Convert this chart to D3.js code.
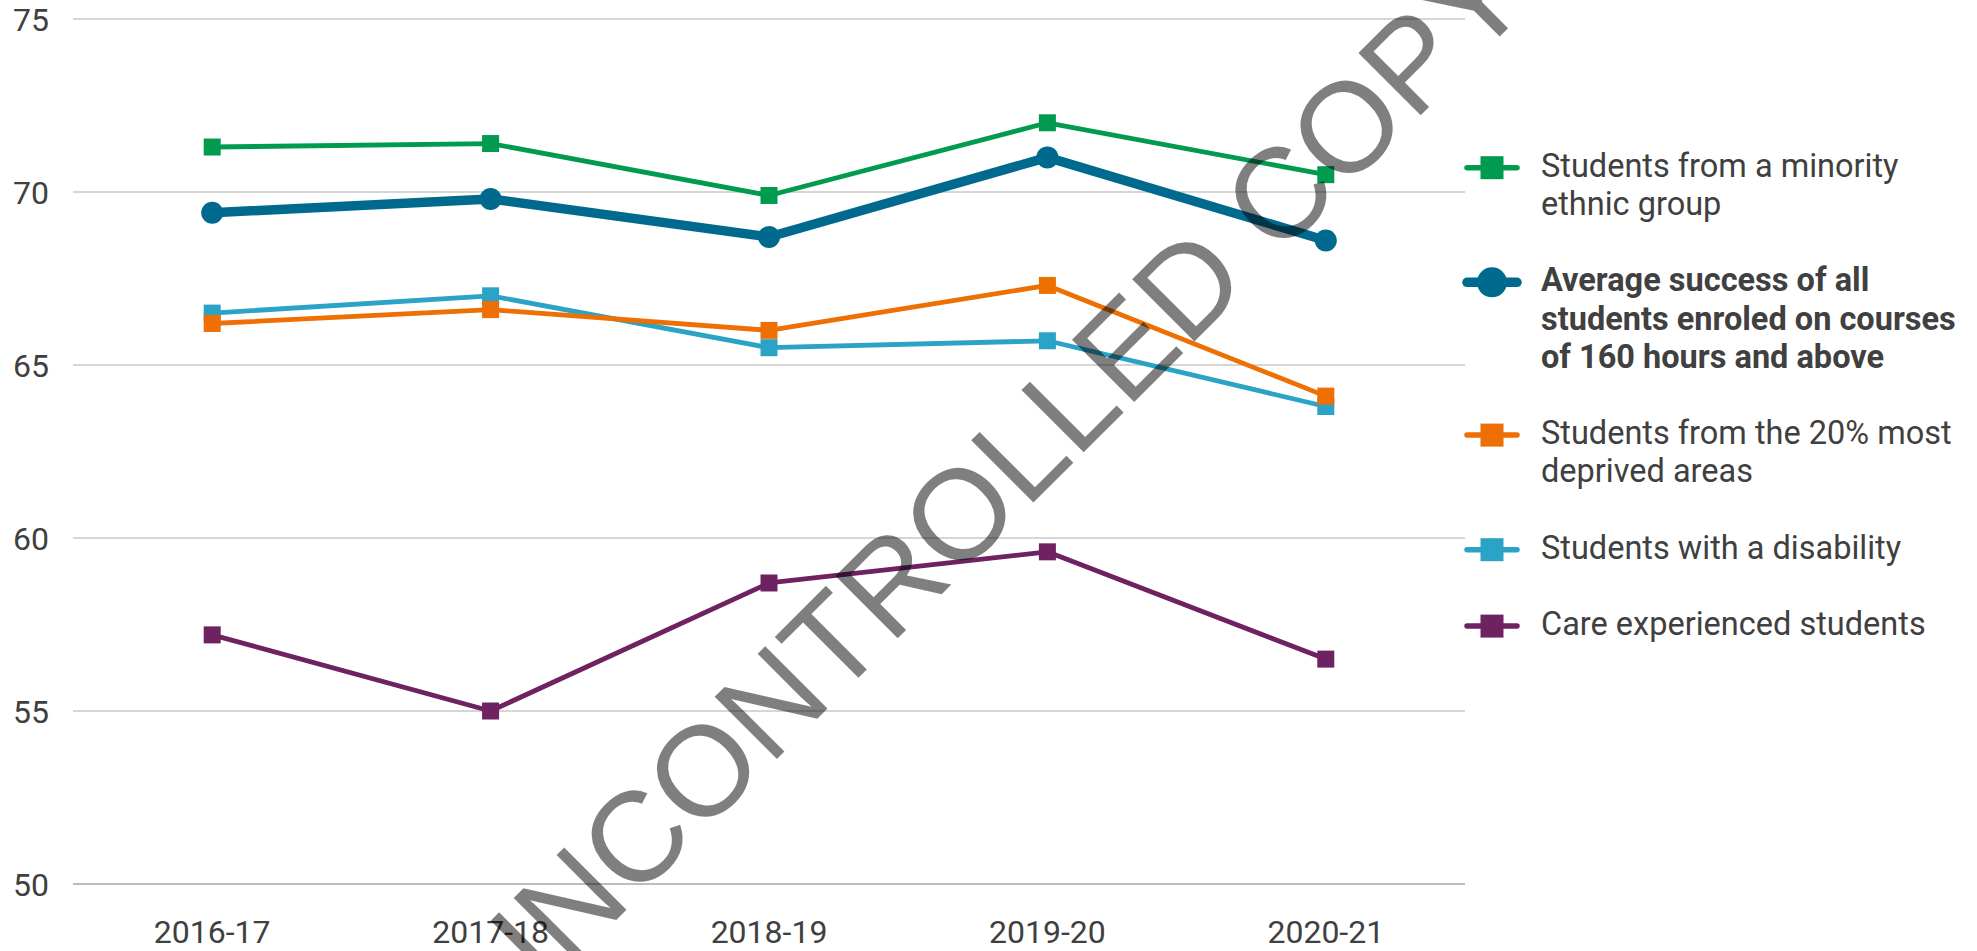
<!DOCTYPE html>
<html>
<head>
<meta charset="utf-8">
<script src="https://cdn.jsdelivr.net/npm/d3@7"></script>
<style>
  body { margin: 0; background: #fff; }
  text { font-family: Roboto, "Noto Sans", sans-serif; fill: #404040; }
</style>
</head>
<body>
<div class="canvas"></div>
<script>
const years = ['2016-17', '2017-18', '2018-19', '2019-20', '2020-21']
const yTicks = [50, 55, 60, 65, 70, 75]

const minorityEthnic = [71.3, 71.4, 69.9, 72.0, 70.5]
const averageAll = [69.4, 69.8, 68.7, 71.0, 68.6]
const deprived20 = [66.2, 66.6, 66.0, 67.3, 64.1]
const disability = [66.5, 67.0, 65.5, 65.7, 63.8]
const careExperienced = [57.2, 55.0, 58.7, 59.6, 56.5]

const legendLabels = [
    ['Students from a minority', 'ethnic group'],
    ['Average success of all', 'students enroled on courses', 'of 160 hours and above'],
    ['Students from the 20% most', 'deprived areas'],
    ['Students with a disability'],
    ['Care experienced students']
]

const series = [
    { name: 'minority', values: minorityEthnic, colour: '#009b4e', bold: false, label: legendLabels[0] },
    { name: 'average', values: averageAll, colour: '#006a8e', bold: true, label: legendLabels[1] },
    { name: 'deprived', values: deprived20, colour: '#ee6f03', bold: false, label: legendLabels[2] },
    { name: 'disability', values: disability, colour: '#2ba3c6', bold: false, label: legendLabels[3] },
    { name: 'care', values: careExperienced, colour: '#6e2261', bold: false, label: legendLabels[4] }
]

const dimensions = { width: 1977, height: 951 }
const plot = { left: 73, right: 1465, top: 19, bottom: 884 }

const svg = d3.select('.canvas')
    .append('svg')
    .attr('width', dimensions.width)
    .attr('height', dimensions.height)

const x = d3.scalePoint()
    .domain(years)
    .range([plot.left, plot.right])
    .padding(0.5)

const y = d3.scaleLinear()
    .domain([50, 75])
    .range([plot.bottom, plot.top])

// gridlines + y labels
const grid = svg.append('g')
grid.selectAll('line')
    .data(yTicks)
    .enter()
    .append('line')
    .attr('x1', plot.left)
    .attr('x2', plot.right)
    .attr('y1', d => y(d))
    .attr('y2', d => y(d))
    .attr('stroke', d => d === 50 ? '#bdbdbd' : '#c8c8c8')
    .attr('stroke-width', d => d === 50 ? 2 : 1.5)

grid.selectAll('text')
    .data(yTicks)
    .enter()
    .append('text')
    .attr('x', 49)
    .attr('y', d => y(d) + 12)
    .attr('text-anchor', 'end')
    .attr('font-size', 32)
    .text(d => d)

// x labels
svg.append('g')
    .selectAll('text')
    .data(years)
    .enter()
    .append('text')
    .attr('x', d => x(d))
    .attr('y', 943)
    .attr('text-anchor', 'middle')
    .attr('font-size', 32)
    .text(d => d)

const line = d3.line()
    .x((d, i) => x(years[i]))
    .y(d => y(d))

// draw order: purple, light blue, orange, green, blue
const drawOrder = [4, 3, 2, 0, 1]
const lines = svg.append('g')

drawOrder.forEach(k => {
    const s = series[k]
    const g = lines.append('g')
    g.append('path')
        .datum(s.values)
        .attr('d', line)
        .attr('fill', 'none')
        .attr('stroke', s.colour)
        .attr('stroke-width', s.bold ? 9.5 : 4.8)
        .attr('stroke-linejoin', 'round')

    if (s.bold) {
        g.selectAll('circle')
            .data(s.values)
            .enter()
            .append('circle')
            .attr('cx', (d, i) => x(years[i]))
            .attr('cy', d => y(d))
            .attr('r', 11)
            .attr('fill', s.colour)
    } else {
        g.selectAll('rect')
            .data(s.values)
            .enter()
            .append('rect')
            .attr('x', (d, i) => x(years[i]) - 8.5)
            .attr('y', d => y(d) - 8.5)
            .attr('width', 17)
            .attr('height', 17)
            .attr('fill', s.colour)
    }
})

// legend
const legend = svg.append('g')
const lineHeight = 38.2
let baseline = 176.7

series.forEach(s => {
    const item = legend.append('g')
    const my = baseline - 9
    item.append('line')
        .attr('x1', 1467)
        .attr('x2', 1517)
        .attr('y1', my)
        .attr('y2', my)
        .attr('stroke', s.colour)
        .attr('stroke-width', s.bold ? 9.5 : 5.5)
        .attr('stroke-linecap', 'round')

    if (s.bold) {
        item.append('circle')
            .attr('cx', 1492)
            .attr('cy', my)
            .attr('r', 15)
            .attr('fill', s.colour)
    } else {
        item.append('rect')
            .attr('x', 1492 - 11.5)
            .attr('y', my - 11.5)
            .attr('width', 23)
            .attr('height', 23)
            .attr('fill', s.colour)
    }

    const t = item.append('text')
        .attr('x', 1541)
        .attr('y', baseline)
        .attr('font-size', 32.5)
        .attr('font-weight', s.bold ? 700 : 400)

    t.selectAll('tspan')
        .data(s.label)
        .enter()
        .append('tspan')
        .attr('x', 1541)
        .attr('dy', (d, i) => i === 0 ? 0 : lineHeight)
        .text(d => d)

    baseline += lineHeight * (s.label.length + 1)
})

// watermark
svg.append('text')
    .attr('transform', 'translate(986, 485) rotate(-45)')
    .attr('y', 46)
    .attr('text-anchor', 'middle')
    .attr('font-size', 128)
    .style('font-family', '"Liberation Sans", Arial, sans-serif')
    .style('fill', '#000')
    .attr('fill-opacity', 0.5)
    .text('UNCONTROLLED COPY')
</script>
</body>
</html>
